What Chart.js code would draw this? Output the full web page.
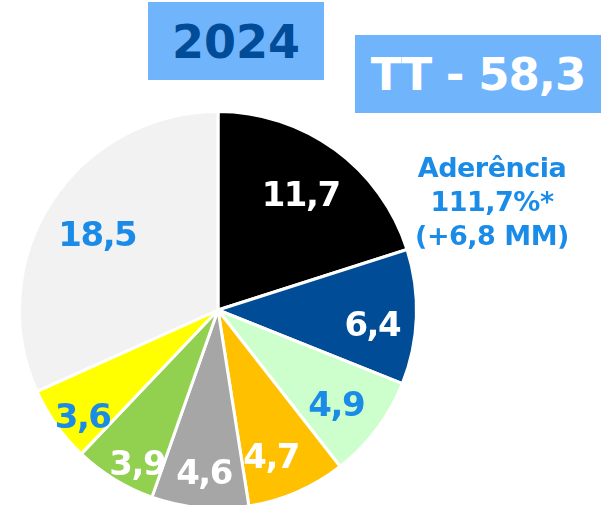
<!DOCTYPE html>
<html>
<head>
<meta charset="utf-8">
<script src="https://cdn.jsdelivr.net/npm/chart.js@4.4.1/dist/chart.umd.min.js"></script>
<style>
    body { margin: 0; background: #ffffff; }
    #wrap { position: relative; width: 601px; height: 505px; overflow: hidden; font-family: 'DejaVu Sans', sans-serif; }
    #grafico { position: absolute; left: 0; top: 0; }
    .caixa { position: absolute; background: #70b5fc; font-weight: bold; text-align: center; }
    #ano { left: 148px; top: 2px; width: 176px; height: 78px; line-height: 80px; font-size: 46px; color: #004c99; }
    #total { left: 355px; top: 35px; width: 246px; height: 78px; line-height: 80px; font-size: 45px; color: #ffffff; letter-spacing: -1px; }
    #aderencia { position: absolute; left: 392px; top: 151px; width: 200px; text-align: center;
        color: #1a8ce8; font-weight: bold; font-size: 27px; line-height: 34px; letter-spacing: -0.5px; }
</style>
</head>
<body>
<div id="wrap">
    <canvas id="grafico" width="601" height="510"></canvas>
    <div class="caixa" id="ano">2024</div>
    <div class="caixa" id="total">TT - 58,3</div>
    <div id="aderencia">Aderência<br>111,7%*<br>(+6,8 MM)</div>
</div>
<script>
    let categorias = ['A', 'B', 'C', 'D', 'E', 'F', 'G', 'H'];
    let valores = [11.7, 6.4, 4.9, 4.7, 4.6, 3.9, 3.6, 18.5];
    let rotulos = ['11,7', '6,4', '4,9', '4,7', '4,6', '3,9', '3,6', '18,5'];

    let cores = ['#000000', '#004c97', '#ccffcc', '#ffc000', '#a6a6a6', '#92d050', '#ffff00', '#f2f2f2'];
    let coresRotulo = ['#ffffff', '#ffffff', '#1a8ce8', '#ffffff', '#ffffff', '#ffffff', '#1a8ce8', '#1a8ce8'];
    // distancia do rotulo (fracao do raio) e desvio de angulo em graus
    let distRotulo = [0.72, 0.78, 0.76, 0.78, 0.815, 0.87, 0.866, 0.72];
    let desvioRotulo = [-0.8, 2.9, 1.5, 3.4, -0.3, -3.6, -2.7, -0.5];

    let pluginRotulos = {
        id: 'rotulos',
        afterDatasetsDraw(chart) {
            let ctx = chart.ctx;
            let meta = chart.getDatasetMeta(0);
            let tamanho = 34;
            ctx.save();
            ctx.font = 'bold ' + tamanho + 'px "DejaVu Sans", sans-serif';
            ctx.letterSpacing = '-1.5px';
            ctx.textAlign = 'center';
            ctx.textBaseline = 'alphabetic';
            meta.data.forEach(function (arco, i) {
                let p = arco.getProps(['x', 'y', 'startAngle', 'endAngle', 'outerRadius'], true);
                let meio = (p.startAngle + p.endAngle) / 2 + desvioRotulo[i] * Math.PI / 180;
                let r = p.outerRadius * distRotulo[i];
                ctx.fillStyle = coresRotulo[i];
                ctx.fillText(rotulos[i], p.x + Math.cos(meio) * r, p.y + Math.sin(meio) * r + tamanho * 0.365);
            });
            ctx.restore();
        }
    };

    let config = {
        type: 'pie',
        data: {
            labels: categorias,
            datasets: [{
                data: valores,
                backgroundColor: cores,
                borderColor: '#ffffff',
                borderWidth: 3
            }]
        },
        options: {
            responsive: false,
            animation: false,
            layout: {
                padding: { left: 18, right: 183, top: 110, bottom: 0 }
            },
            plugins: {
                legend: { display: false },
                tooltip: { enabled: false }
            }
        },
        plugins: [pluginRotulos]
    };

    let meuGrafico = new Chart(document.getElementById('grafico'), config);
</script>
</body>
</html>
